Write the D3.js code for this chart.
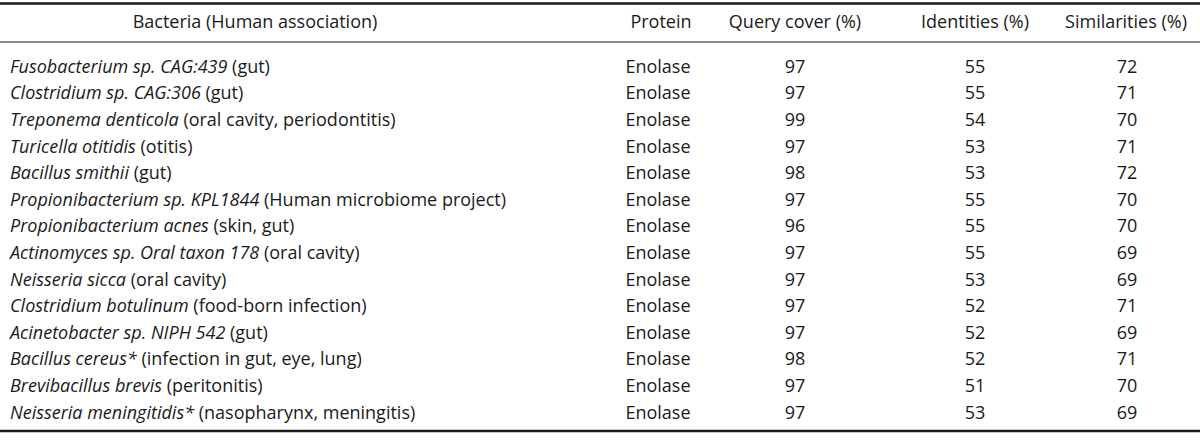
<!DOCTYPE html>
<html>
<head>
<meta charset="utf-8">
<script src="https://cdn.jsdelivr.net/npm/d3@7"></script>
<style>
  html, body { margin: 0; padding: 0; background: #fff; }
  svg text { font-family: "Open Sans", "Noto Sans", sans-serif; fill: #1a1a1a; white-space: pre; }
</style>
</head>
<body>
<svg id="chart" width="1200" height="443"></svg>
<script>
// ---- data ----
const columnHeaders = ["Bacteria (Human association)", "Protein", "Query cover (%)", "Identities (%)", "Similarities (%)"];
const bacteriaNames = [
  "Fusobacterium sp. CAG:439",
  "Clostridium sp. CAG:306",
  "Treponema denticola",
  "Turicella otitidis",
  "Bacillus smithii",
  "Propionibacterium sp. KPL1844",
  "Propionibacterium acnes",
  "Actinomyces sp. Oral taxon 178",
  "Neisseria sicca",
  "Clostridium botulinum",
  "Acinetobacter sp. NIPH 542",
  "Bacillus cereus*",
  "Brevibacillus brevis",
  "Neisseria meningitidis*"
];
const associations = [
  "(gut)",
  "(gut)",
  "(oral cavity, periodontitis)",
  "(otitis)",
  "(gut)",
  "(Human microbiome project)",
  "(skin, gut)",
  "(oral cavity)",
  "(oral cavity)",
  "(food-born infection)",
  "(gut)",
  "(infection in gut, eye, lung)",
  "(peritonitis)",
  "(nasopharynx, meningitis)"
];
const proteins = ["Enolase","Enolase","Enolase","Enolase","Enolase","Enolase","Enolase","Enolase","Enolase","Enolase","Enolase","Enolase","Enolase","Enolase"];
const queryCover = [97, 97, 99, 97, 98, 97, 96, 97, 97, 97, 97, 98, 97, 97];
const identities = [55, 55, 54, 53, 53, 55, 55, 55, 53, 52, 52, 52, 51, 53];
const similarities = [72, 71, 70, 71, 72, 70, 70, 69, 69, 71, 69, 71, 70, 69];

// ---- layout ----
const W = 1200, H = 443;
const fontSize = 18;
const svg = d3.select("#chart");

const rowIdx = d3.range(bacteriaNames.length);
const y = d3.scaleBand().domain(rowIdx).range([53.2, 425.6]).paddingInner(0).paddingOuter(0);

// column centers for headers and values
const headerX = d3.scaleOrdinal().domain(columnHeaders).range([255, 661, 795, 975, 1126]);
const valueX = d3.scaleOrdinal().domain(["protein", "query", "ident", "simil"]).range([658, 795, 975, 1127]);
const nameLeft = 10;

// rules
svg.append("line").attr("x1", 0).attr("x2", W).attr("y1", 3.5).attr("y2", 3.5)
  .attr("stroke", "#1a1a1a").attr("stroke-width", 2.5);
svg.append("line").attr("x1", 0).attr("x2", W).attr("y1", 42).attr("y2", 42)
  .attr("stroke", "#1a1a1a").attr("stroke-width", 1.2);
svg.append("line").attr("x1", 0).attr("x2", W).attr("y1", 431).attr("y2", 431)
  .attr("stroke", "#1a1a1a").attr("stroke-width", 2.5);

// headers
svg.selectAll("text.header").data(columnHeaders).join("text")
  .attr("class", "header")
  .attr("x", d => headerX(d))
  .attr("y", 22)
  .attr("dy", "0.35em")
  .attr("text-anchor", "middle")
  .attr("font-size", fontSize)
  .text(d => d);

// rows
const rows = svg.selectAll("g.row").data(rowIdx).join("g")
  .attr("class", "row")
  .attr("transform", i => `translate(0,${y(i) + y.bandwidth() / 2})`);

const nameText = rows.append("text")
  .attr("x", nameLeft)
  .attr("dy", "0.35em")
  .attr("font-size", fontSize);
nameText.append("tspan").attr("font-style", "italic").text(i => bacteriaNames[i]);
nameText.append("tspan").text(i => " " + associations[i]);

rows.append("text").attr("x", valueX("protein")).attr("dy", "0.35em")
  .attr("text-anchor", "middle").attr("font-size", fontSize).text(i => proteins[i]);
rows.append("text").attr("x", valueX("query")).attr("dy", "0.35em")
  .attr("text-anchor", "middle").attr("font-size", fontSize).text(i => queryCover[i]);
rows.append("text").attr("x", valueX("ident")).attr("dy", "0.35em")
  .attr("text-anchor", "middle").attr("font-size", fontSize).text(i => identities[i]);
rows.append("text").attr("x", valueX("simil")).attr("dy", "0.35em")
  .attr("text-anchor", "middle").attr("font-size", fontSize).text(i => similarities[i]);
</script>
</body>
</html>
